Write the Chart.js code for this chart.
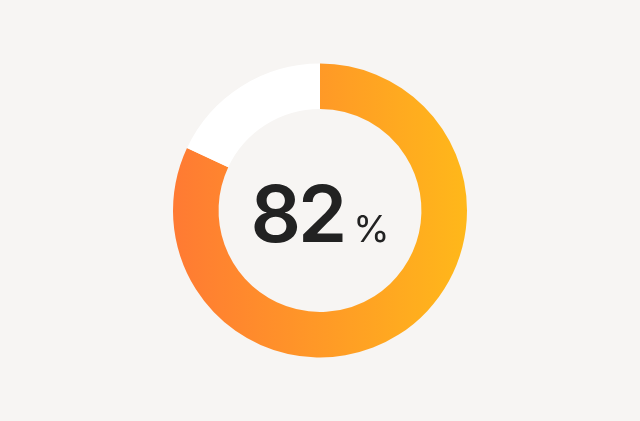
<!DOCTYPE html>
<html>
<head>
<meta charset="utf-8">
<script src="https://cdn.jsdelivr.net/npm/chart.js@4"></script>
<style>
  html, body { margin: 0; padding: 0; background: #f7f5f3; }
  #wrap { position: relative; width: 640px; height: 421px; }
  #label {
    position: absolute; left: 0; top: 0; width: 640px; height: 421px;
    display: flex; align-items: center; justify-content: center;
    font-family: Inter, sans-serif; color: #222222; pointer-events: none;
  }
  #value { font-size: 79px; font-weight: 600; letter-spacing: -3px; margin-top: 4px; }
  #unit { font-size: 37px; font-weight: 400; margin-left: 9px; margin-top: 36px; }
</style>
</head>
<body>
<div id="wrap">
  <canvas id="gauge" width="640" height="421"></canvas>
  <div id="label"><span id="value">82</span><span id="unit">%</span></div>
</div>
<script>
const labels = ['Done', 'Remaining'];
const values = [82, 18];

const ctx = document.getElementById('gauge').getContext('2d');

// horizontal orange -> amber gradient across the ring
const grad = ctx.createLinearGradient(173, 0, 467, 0);
grad.addColorStop(0, '#ff7a33');
grad.addColorStop(1, '#ffb81a');

new Chart(ctx, {
  type: 'doughnut',
  data: {
    labels: labels,
    datasets: [{
      data: values,
      backgroundColor: [grad, '#ffffff'],
      borderWidth: 0,
      hoverOffset: 0
    }]
  },
  options: {
    responsive: false,
    animation: false,
    radius: 147,
    cutout: '69%',
    plugins: {
      legend: { display: false },
      tooltip: { enabled: false }
    }
  }
});
</script>
</body>
</html>
